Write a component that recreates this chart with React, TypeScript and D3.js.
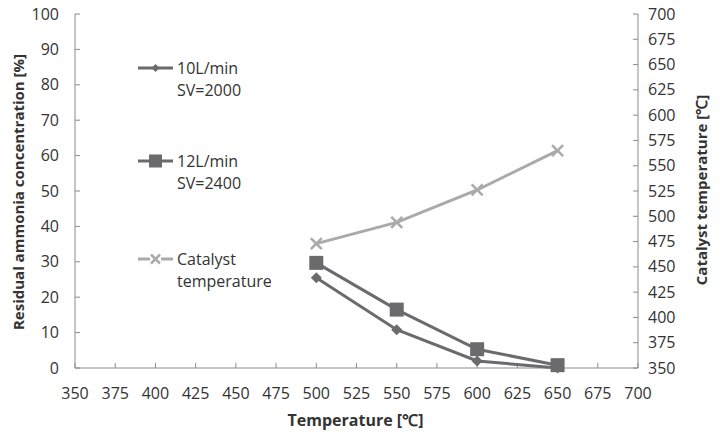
import React from 'react';
import * as d3 from 'd3';

const temps = [500, 550, 600, 650];
const flow10 = [25.5, 10.8, 2.0, 0.0];
const flow12 = [29.7, 16.5, 5.3, 0.8];
const catalyst = [473, 494, 526, 565];

const xTicks = d3.range(350, 701, 25);
const yTicks = d3.range(0, 101, 10);
const y2Ticks = d3.range(350, 701, 25);

const W = 722, H = 432;
const left = 75, right = 638, top = 14, bottom = 368;
const dark = '#6b6b6e';
const light = '#aaaaaa';
const axisCol = '#8c8c8c';
const textCol = '#333333';
const font = '"Open Sans", sans-serif';

export default function App() {
  const x = d3.scaleLinear().domain([350, 700]).range([left, right]);
  const y = d3.scaleLinear().domain([0, 100]).range([bottom, top]);
  const y2 = d3.scaleLinear().domain([350, 700]).range([bottom, top]);

  const line10 = d3.line<number>().x((d, i) => x(temps[i])).y(d => y(d))(flow10) || '';
  const line12 = d3.line<number>().x((d, i) => x(temps[i])).y(d => y(d))(flow12) || '';
  const lineCat = d3.line<number>().x((d, i) => x(temps[i])).y(d => y2(d))(catalyst) || '';

  const diamond = (cx, cy, r) => `M${cx},${cy - r}L${cx + r},${cy}L${cx},${cy + r}L${cx - r},${cy}Z`;
  const cross = (cx, cy, r) => `M${cx - r},${cy - r}L${cx + r},${cy + r}M${cx + r},${cy - r}L${cx - r},${cy + r}`;

  return (
    <svg width={W} height={H} style={{ position: 'absolute', left: 0, top: 0, background: '#fff' }}
      fontFamily={font}>
      {/* axes */}
      <line x1={left} y1={top} x2={left} y2={bottom} stroke={axisCol} />
      <line x1={right} y1={top} x2={right} y2={bottom} stroke={axisCol} />
      <line x1={left} y1={bottom} x2={right} y2={bottom} stroke={axisCol} />
      {yTicks.map(t => (
        <g key={'y' + t}>
          <line x1={left} x2={left + 5} y1={y(t)} y2={y(t)} stroke={axisCol} />
          <text x={left - 16} y={y(t)} dy="0.35em" textAnchor="end" fontSize={16} fill={textCol}>{t}</text>
        </g>
      ))}
      {y2Ticks.map(t => (
        <g key={'y2' + t}>
          <line x1={right - 5} x2={right} y1={y2(t)} y2={y2(t)} stroke={axisCol} />
          <text x={right + 10} y={y2(t)} dy="0.35em" textAnchor="start" fontSize={16} fill={textCol}>{t}</text>
        </g>
      ))}
      {xTicks.map(t => (
        <g key={'x' + t}>
          <line x1={x(t)} x2={x(t)} y1={bottom - 5} y2={bottom} stroke={axisCol} />
          <text x={x(t)} y={bottom + 25} dy="0.35em" textAnchor="middle" fontSize={16} fill={textCol}>{t}</text>
        </g>
      ))}
      <text x={(left + right) / 2 - 1} y={420} dy="0.35em" textAnchor="middle" fontSize={16} fontWeight="bold" fill={textCol}>Temperature [℃]</text>
      <text transform={`translate(19,${(top + bottom) / 2 + 1}) rotate(-90)`} dy="0.35em" textAnchor="middle" fontSize={15} fontWeight="bold" fill={textCol}>Residual ammonia concentration [%]</text>
      <text transform={`translate(702,190) rotate(-90)`} dy="0.35em" textAnchor="middle" fontSize={15} fontWeight="bold" fill={textCol}>Catalyst temperature [℃]</text>

      {/* series */}
      <path d={lineCat} fill="none" stroke={light} strokeWidth={3} />
      {catalyst.map((d, i) => (
        <path key={'c' + i} d={cross(x(temps[i]), y2(d), 5.5)} stroke={light} strokeWidth={2.5} fill="none" />
      ))}
      <path d={line12} fill="none" stroke={dark} strokeWidth={3} />
      {flow12.map((d, i) => (
        <rect key={'s' + i} x={x(temps[i]) - 7} y={y(d) - 7} width={14} height={14} fill={dark} />
      ))}
      <path d={line10} fill="none" stroke={dark} strokeWidth={3} />
      {flow10.map((d, i) => (
        <path key={'d' + i} d={diamond(x(temps[i]), y(d), 5.5)} fill={dark} />
      ))}

      {/* legend */}
      <g fontSize={16} fill={textCol}>
        <line x1={138} x2={173} y1={68} y2={68} stroke={dark} strokeWidth={3} />
        <path d={diamond(155.5, 68, 4)} fill={dark} />
        <text x={177} y={68} dy="0.35em">10L/min</text>
        <text x={177} y={90} dy="0.35em">SV=2000</text>

        <line x1={138} x2={173} y1={161} y2={161} stroke={dark} strokeWidth={3} />
        <rect x={149} y={154.5} width={13} height={13} fill={dark} />
        <text x={177} y={161} dy="0.35em">12L/min</text>
        <text x={177} y={183} dy="0.35em">SV=2400</text>

        <line x1={138} x2={173} y1={259} y2={259} stroke={light} strokeWidth={3} />
        <rect x={150} y={252} width={11} height={14} fill="#fff" />
        <path d={cross(155.5, 259, 4.5)} stroke={light} strokeWidth={2.5} fill="none" />
        <text x={177} y={259} dy="0.35em">Catalyst</text>
        <text x={177} y={281} dy="0.35em">temperature</text>
      </g>
    </svg>
  );
}
